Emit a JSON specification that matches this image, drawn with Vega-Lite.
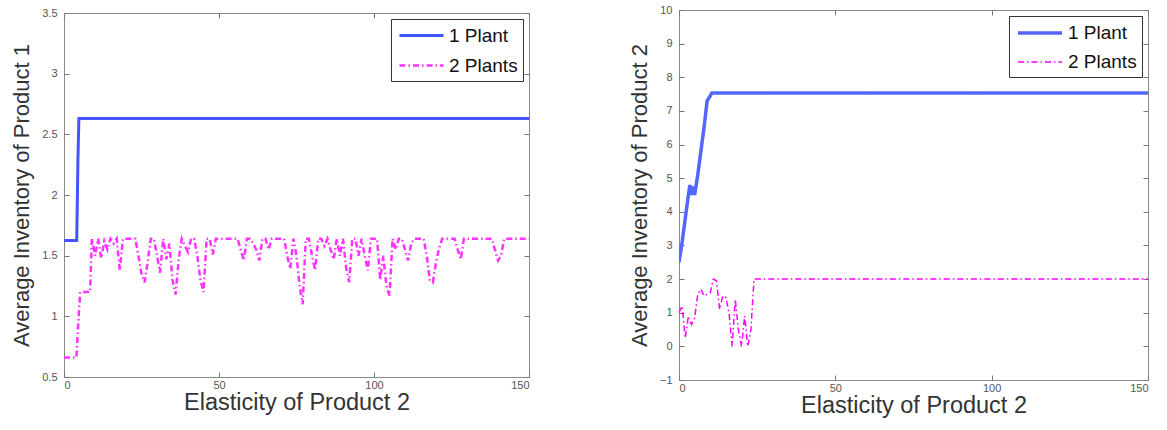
{
  "$schema": "https://vega.github.io/schema/vega-lite/v6.json",
  "padding": {"left": 10, "top": 3, "right": 5, "bottom": 5},
  "background": "white",
  "bounds": "flush",
  "spacing": 150,
  "center": true,
  "config": {
    "font": "Liberation Sans",
    "view": {"stroke": "#8a8a8a", "strokeWidth": 1},
    "axis": {
      "grid": false,
      "domain": false,
      "labelFont": "Liberation Sans",
      "labelFontSize": 11,
      "labelColor": "#555555",
      "titleFont": "Liberation Sans",
      "titleFontWeight": "normal",
      "titleColor": "#333333",
      "tickColor": "#777777",
      "tickSize": -5
    },
    "axisX": {"labelPadding": 7, "titlePadding": 0, "titleFontSize": 23.5},
    "axisY": {"labelPadding": 12, "titlePadding": 8, "titleFontSize": 22},
    "legend": {
      "orient": "top-right",
      "offset": 6,
      "strokeColor": "#333333",
      "fillColor": "white",
      "padding": 5,
      "labelFont": "Liberation Sans",
      "labelFontSize": 19,
      "labelColor": "#111111",
      "symbolType": "M-2.2,0H2.2",
      "symbolSize": 400,
      "symbolOffset": 14,
      "rowPadding": 8,
      "labelOffset": 16
    }
  },
  "hconcat": [
    {
      "width": 465,
      "height": 364,
      "data": {"values": [
        {"x": 0, "y": 1.625, "series": "1 Plant"},
        {"x": 4.1, "y": 1.625, "series": "1 Plant"},
        {"x": 4.3, "y": 1.95, "series": "1 Plant"},
        {"x": 4.5, "y": 2.3, "series": "1 Plant"},
        {"x": 4.8, "y": 2.63, "series": "1 Plant"},
        {"x": 150, "y": 2.63, "series": "1 Plant"},
        {"x": 0, "y": 0.66, "series": "2 Plants"},
        {"x": 4, "y": 0.66, "series": "2 Plants"},
        {"x": 4.5, "y": 0.9, "series": "2 Plants"},
        {"x": 5.2, "y": 1.2, "series": "2 Plants"},
        {"x": 8.4, "y": 1.2, "series": "2 Plants"},
        {"x": 9, "y": 1.64, "series": "2 Plants"},
        {"x": 10, "y": 1.5, "series": "2 Plants"},
        {"x": 11, "y": 1.64, "series": "2 Plants"},
        {"x": 12, "y": 1.48, "series": "2 Plants"},
        {"x": 13, "y": 1.62, "series": "2 Plants"},
        {"x": 14, "y": 1.55, "series": "2 Plants"},
        {"x": 15, "y": 1.64, "series": "2 Plants"},
        {"x": 16, "y": 1.6, "series": "2 Plants"},
        {"x": 17, "y": 1.64, "series": "2 Plants"},
        {"x": 18, "y": 1.38, "series": "2 Plants"},
        {"x": 19, "y": 1.64, "series": "2 Plants"},
        {"x": 23, "y": 1.64, "series": "2 Plants"},
        {"x": 24, "y": 1.5, "series": "2 Plants"},
        {"x": 25, "y": 1.35, "series": "2 Plants"},
        {"x": 26, "y": 1.28, "series": "2 Plants"},
        {"x": 27, "y": 1.45, "series": "2 Plants"},
        {"x": 28, "y": 1.64, "series": "2 Plants"},
        {"x": 29, "y": 1.64, "series": "2 Plants"},
        {"x": 30, "y": 1.5, "series": "2 Plants"},
        {"x": 31, "y": 1.36, "series": "2 Plants"},
        {"x": 32, "y": 1.64, "series": "2 Plants"},
        {"x": 33, "y": 1.47, "series": "2 Plants"},
        {"x": 34, "y": 1.6, "series": "2 Plants"},
        {"x": 35, "y": 1.3, "series": "2 Plants"},
        {"x": 36, "y": 1.18, "series": "2 Plants"},
        {"x": 37, "y": 1.47, "series": "2 Plants"},
        {"x": 38, "y": 1.64, "series": "2 Plants"},
        {"x": 39, "y": 1.58, "series": "2 Plants"},
        {"x": 40, "y": 1.53, "series": "2 Plants"},
        {"x": 41, "y": 1.64, "series": "2 Plants"},
        {"x": 42, "y": 1.64, "series": "2 Plants"},
        {"x": 43, "y": 1.5, "series": "2 Plants"},
        {"x": 44, "y": 1.3, "series": "2 Plants"},
        {"x": 45, "y": 1.2, "series": "2 Plants"},
        {"x": 46, "y": 1.64, "series": "2 Plants"},
        {"x": 47, "y": 1.64, "series": "2 Plants"},
        {"x": 48, "y": 1.51, "series": "2 Plants"},
        {"x": 49, "y": 1.64, "series": "2 Plants"},
        {"x": 56, "y": 1.64, "series": "2 Plants"},
        {"x": 57, "y": 1.55, "series": "2 Plants"},
        {"x": 58, "y": 1.46, "series": "2 Plants"},
        {"x": 59, "y": 1.64, "series": "2 Plants"},
        {"x": 60, "y": 1.64, "series": "2 Plants"},
        {"x": 61, "y": 1.6, "series": "2 Plants"},
        {"x": 62, "y": 1.55, "series": "2 Plants"},
        {"x": 63, "y": 1.46, "series": "2 Plants"},
        {"x": 64, "y": 1.64, "series": "2 Plants"},
        {"x": 65, "y": 1.64, "series": "2 Plants"},
        {"x": 66, "y": 1.55, "series": "2 Plants"},
        {"x": 67, "y": 1.64, "series": "2 Plants"},
        {"x": 71, "y": 1.64, "series": "2 Plants"},
        {"x": 72, "y": 1.5, "series": "2 Plants"},
        {"x": 73, "y": 1.39, "series": "2 Plants"},
        {"x": 74, "y": 1.64, "series": "2 Plants"},
        {"x": 75, "y": 1.5, "series": "2 Plants"},
        {"x": 76, "y": 1.25, "series": "2 Plants"},
        {"x": 77, "y": 1.1, "series": "2 Plants"},
        {"x": 78, "y": 1.64, "series": "2 Plants"},
        {"x": 79, "y": 1.64, "series": "2 Plants"},
        {"x": 80, "y": 1.5, "series": "2 Plants"},
        {"x": 81, "y": 1.38, "series": "2 Plants"},
        {"x": 82, "y": 1.64, "series": "2 Plants"},
        {"x": 83, "y": 1.64, "series": "2 Plants"},
        {"x": 84, "y": 1.58, "series": "2 Plants"},
        {"x": 85, "y": 1.64, "series": "2 Plants"},
        {"x": 86, "y": 1.55, "series": "2 Plants"},
        {"x": 87, "y": 1.47, "series": "2 Plants"},
        {"x": 88, "y": 1.64, "series": "2 Plants"},
        {"x": 89, "y": 1.5, "series": "2 Plants"},
        {"x": 90, "y": 1.64, "series": "2 Plants"},
        {"x": 91, "y": 1.4, "series": "2 Plants"},
        {"x": 92, "y": 1.28, "series": "2 Plants"},
        {"x": 93, "y": 1.64, "series": "2 Plants"},
        {"x": 94, "y": 1.64, "series": "2 Plants"},
        {"x": 95, "y": 1.5, "series": "2 Plants"},
        {"x": 96, "y": 1.64, "series": "2 Plants"},
        {"x": 97, "y": 1.5, "series": "2 Plants"},
        {"x": 98, "y": 1.38, "series": "2 Plants"},
        {"x": 99, "y": 1.64, "series": "2 Plants"},
        {"x": 101, "y": 1.64, "series": "2 Plants"},
        {"x": 102, "y": 1.3, "series": "2 Plants"},
        {"x": 103, "y": 1.5, "series": "2 Plants"},
        {"x": 104, "y": 1.25, "series": "2 Plants"},
        {"x": 105, "y": 1.17, "series": "2 Plants"},
        {"x": 106, "y": 1.64, "series": "2 Plants"},
        {"x": 107, "y": 1.55, "series": "2 Plants"},
        {"x": 108, "y": 1.64, "series": "2 Plants"},
        {"x": 109, "y": 1.64, "series": "2 Plants"},
        {"x": 110, "y": 1.55, "series": "2 Plants"},
        {"x": 111, "y": 1.46, "series": "2 Plants"},
        {"x": 112, "y": 1.6, "series": "2 Plants"},
        {"x": 113, "y": 1.64, "series": "2 Plants"},
        {"x": 116, "y": 1.64, "series": "2 Plants"},
        {"x": 117, "y": 1.5, "series": "2 Plants"},
        {"x": 118, "y": 1.3, "series": "2 Plants"},
        {"x": 119, "y": 1.28, "series": "2 Plants"},
        {"x": 120, "y": 1.45, "series": "2 Plants"},
        {"x": 121, "y": 1.56, "series": "2 Plants"},
        {"x": 122, "y": 1.64, "series": "2 Plants"},
        {"x": 126, "y": 1.64, "series": "2 Plants"},
        {"x": 127, "y": 1.55, "series": "2 Plants"},
        {"x": 128, "y": 1.47, "series": "2 Plants"},
        {"x": 129, "y": 1.64, "series": "2 Plants"},
        {"x": 138, "y": 1.64, "series": "2 Plants"},
        {"x": 139, "y": 1.55, "series": "2 Plants"},
        {"x": 140, "y": 1.46, "series": "2 Plants"},
        {"x": 141, "y": 1.5, "series": "2 Plants"},
        {"x": 142, "y": 1.64, "series": "2 Plants"},
        {"x": 150, "y": 1.64, "series": "2 Plants"}
      ]},
      "layer": [
        {
          "mark": {"type": "line", "clip": true},
          "encoding": {
            "x": {"field": "x", "type": "quantitative", "title": "Elasticity of Product 2",
                  "scale": {"domain": [0, 150], "nice": false},
                  "axis": {"values": [0, 50, 100, 150]}},
            "y": {"field": "y", "type": "quantitative", "title": "Average Inventory of Product 1",
                  "scale": {"domain": [0.5, 3.5], "nice": false, "zero": false},
                  "axis": {"values": [0.5, 1, 1.5, 2, 2.5, 3, 3.5], "labelExpr": "datum.value + ''"}},
            "color": {"field": "series", "type": "nominal", "title": null,
                      "scale": {"domain": ["1 Plant", "2 Plants"], "range": ["#4455ff", "#ff33ff"]}},
            "strokeDash": {"field": "series", "type": "nominal", "title": null,
                           "scale": {"domain": ["1 Plant", "2 Plants"], "range": [[1, 0], [6, 3, 1.5, 3]]}},
            "strokeWidth": {"field": "series", "type": "nominal", "title": null,
                            "scale": {"domain": ["1 Plant", "2 Plants"], "range": [3, 2.5]}}
          }
        },
        {
          "mark": {"type": "line", "opacity": 0},
          "encoding": {
            "x": {"field": "x", "type": "quantitative", "title": null,
                  "scale": {"domain": [0, 150], "nice": false},
                  "axis": {"orient": "top", "values": [0, 50, 100, 150], "labels": false}},
            "y": {"field": "y", "type": "quantitative", "title": null,
                  "scale": {"domain": [0.5, 3.5], "nice": false, "zero": false},
                  "axis": {"orient": "right", "values": [0.5, 1, 1.5, 2, 2.5, 3, 3.5], "labels": false}}
          }
        }
      ],
      "resolve": {"axis": {"x": "independent", "y": "independent"}}
    },
    {
      "width": 469,
      "height": 370,
      "data": {"values": [
        {"x": 0, "y": 2.5, "series": "1 Plant"},
        {"x": 1, "y": 3.1, "series": "1 Plant"},
        {"x": 2, "y": 3.8, "series": "1 Plant"},
        {"x": 3, "y": 4.5, "series": "1 Plant"},
        {"x": 3.5, "y": 4.8, "series": "1 Plant"},
        {"x": 4, "y": 4.5, "series": "1 Plant"},
        {"x": 4.5, "y": 4.75, "series": "1 Plant"},
        {"x": 5, "y": 4.5, "series": "1 Plant"},
        {"x": 6, "y": 5.1, "series": "1 Plant"},
        {"x": 7, "y": 5.8, "series": "1 Plant"},
        {"x": 8, "y": 6.5, "series": "1 Plant"},
        {"x": 9, "y": 7.3, "series": "1 Plant"},
        {"x": 10, "y": 7.45, "series": "1 Plant"},
        {"x": 10.5, "y": 7.53, "series": "1 Plant"},
        {"x": 150, "y": 7.53, "series": "1 Plant"},
        {"x": 0, "y": 1.0, "series": "2 Plants"},
        {"x": 1, "y": 1.2, "series": "2 Plants"},
        {"x": 2, "y": 0.25, "series": "2 Plants"},
        {"x": 3, "y": 0.9, "series": "2 Plants"},
        {"x": 4, "y": 0.65, "series": "2 Plants"},
        {"x": 5, "y": 0.85, "series": "2 Plants"},
        {"x": 6, "y": 1.55, "series": "2 Plants"},
        {"x": 7, "y": 1.7, "series": "2 Plants"},
        {"x": 8, "y": 1.5, "series": "2 Plants"},
        {"x": 9, "y": 1.55, "series": "2 Plants"},
        {"x": 10, "y": 1.6, "series": "2 Plants"},
        {"x": 11, "y": 2.0, "series": "2 Plants"},
        {"x": 12, "y": 1.95, "series": "2 Plants"},
        {"x": 13, "y": 1.1, "series": "2 Plants"},
        {"x": 14, "y": 1.5, "series": "2 Plants"},
        {"x": 15, "y": 1.45, "series": "2 Plants"},
        {"x": 16, "y": 1.0, "series": "2 Plants"},
        {"x": 17, "y": 0.0, "series": "2 Plants"},
        {"x": 18, "y": 1.4, "series": "2 Plants"},
        {"x": 19, "y": 0.5, "series": "2 Plants"},
        {"x": 20, "y": 0.0, "series": "2 Plants"},
        {"x": 21, "y": 0.9, "series": "2 Plants"},
        {"x": 22, "y": 0.0, "series": "2 Plants"},
        {"x": 23, "y": 0.5, "series": "2 Plants"},
        {"x": 24, "y": 2.0, "series": "2 Plants"},
        {"x": 150, "y": 2.0, "series": "2 Plants"}
      ]},
      "layer": [
        {
          "mark": {"type": "line", "clip": true},
          "encoding": {
            "x": {"field": "x", "type": "quantitative", "title": "Elasticity of Product 2",
                  "scale": {"domain": [0, 150], "nice": false},
                  "axis": {"values": [0, 50, 100, 150]}},
            "y": {"field": "y", "type": "quantitative", "title": "Average Inventory of Product 2",
                  "scale": {"domain": [-1, 10], "nice": false, "zero": false},
                  "axis": {"values": [-1, 0, 1, 2, 3, 4, 5, 6, 7, 8, 9, 10]}},
            "color": {"field": "series", "type": "nominal", "title": null,
                      "scale": {"domain": ["1 Plant", "2 Plants"], "range": ["#5566ff", "#ff00ff"]}},
            "strokeDash": {"field": "series", "type": "nominal", "title": null,
                           "scale": {"domain": ["1 Plant", "2 Plants"], "range": [[1, 0], [6, 3, 1.5, 3]]}},
            "strokeWidth": {"field": "series", "type": "nominal", "title": null,
                            "scale": {"domain": ["1 Plant", "2 Plants"], "range": [3.5, 1.5]}}
          }
        },
        {
          "mark": {"type": "line", "opacity": 0},
          "encoding": {
            "x": {"field": "x", "type": "quantitative", "title": null,
                  "scale": {"domain": [0, 150], "nice": false},
                  "axis": {"orient": "top", "values": [0, 50, 100, 150], "labels": false}},
            "y": {"field": "y", "type": "quantitative", "title": null,
                  "scale": {"domain": [-1, 10], "nice": false, "zero": false},
                  "axis": {"orient": "right", "values": [-1, 0, 1, 2, 3, 4, 5, 6, 7, 8, 9, 10], "labels": false}}
          }
        }
      ],
      "resolve": {"axis": {"x": "independent", "y": "independent"}}
    }
  ],
  "resolve": {"scale": {"color": "independent", "strokeDash": "independent", "strokeWidth": "independent"}}
}
